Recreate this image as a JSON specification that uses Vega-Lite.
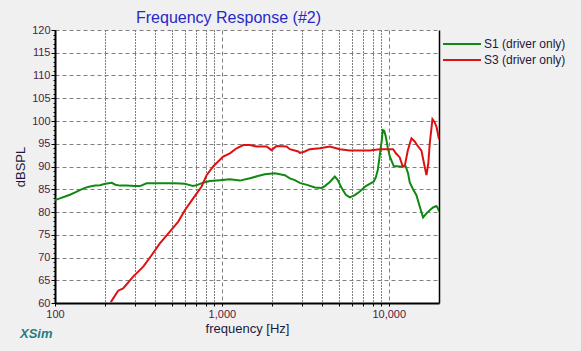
{
  "$schema": "https://vega.github.io/schema/vega-lite/v6.json",
  "width": 384,
  "height": 273,
  "autosize": {"type": "none"},
  "padding": {"left": 55, "top": 30, "right": 142, "bottom": 48},
  "background": "#f0f0f0",
  "config": {"view": {"fill": "white", "stroke": null}, "font": "Liberation Sans"},
  "title": {"text": "XSim", "orient": "bottom", "anchor": "start", "frame": "group", "dx": -35, "offset": -7, "color": "#1f7f7f", "fontSize": 13, "fontStyle": "italic", "fontWeight": "bold"},
  "datasets": {
    "resp": [
      {"s": "S1 (driver only)", "f": 100, "db": 82.6},
      {"s": "S1 (driver only)", "f": 107, "db": 83.0},
      {"s": "S1 (driver only)", "f": 115, "db": 83.4},
      {"s": "S1 (driver only)", "f": 123, "db": 83.8},
      {"s": "S1 (driver only)", "f": 132, "db": 84.3},
      {"s": "S1 (driver only)", "f": 141, "db": 84.8},
      {"s": "S1 (driver only)", "f": 151, "db": 85.3},
      {"s": "S1 (driver only)", "f": 162, "db": 85.6},
      {"s": "S1 (driver only)", "f": 174, "db": 85.8},
      {"s": "S1 (driver only)", "f": 186, "db": 85.9},
      {"s": "S1 (driver only)", "f": 200, "db": 86.2},
      {"s": "S1 (driver only)", "f": 219, "db": 86.4},
      {"s": "S1 (driver only)", "f": 230, "db": 86.0},
      {"s": "S1 (driver only)", "f": 245, "db": 85.8},
      {"s": "S1 (driver only)", "f": 270, "db": 85.8},
      {"s": "S1 (driver only)", "f": 301, "db": 85.7},
      {"s": "S1 (driver only)", "f": 323, "db": 85.7},
      {"s": "S1 (driver only)", "f": 354, "db": 86.3},
      {"s": "S1 (driver only)", "f": 425, "db": 86.3},
      {"s": "S1 (driver only)", "f": 523, "db": 86.3},
      {"s": "S1 (driver only)", "f": 600, "db": 86.2},
      {"s": "S1 (driver only)", "f": 643, "db": 85.9},
      {"s": "S1 (driver only)", "f": 670, "db": 85.7},
      {"s": "S1 (driver only)", "f": 708, "db": 85.9},
      {"s": "S1 (driver only)", "f": 780, "db": 86.5},
      {"s": "S1 (driver only)", "f": 847, "db": 86.8},
      {"s": "S1 (driver only)", "f": 973, "db": 87.0},
      {"s": "S1 (driver only)", "f": 1117, "db": 87.2},
      {"s": "S1 (driver only)", "f": 1282, "db": 86.9},
      {"s": "S1 (driver only)", "f": 1472, "db": 87.4},
      {"s": "S1 (driver only)", "f": 1643, "db": 87.9},
      {"s": "S1 (driver only)", "f": 1809, "db": 88.3},
      {"s": "S1 (driver only)", "f": 2077, "db": 88.5},
      {"s": "S1 (driver only)", "f": 2384, "db": 88.1},
      {"s": "S1 (driver only)", "f": 2554, "db": 87.4},
      {"s": "S1 (driver only)", "f": 2735, "db": 87.0},
      {"s": "S1 (driver only)", "f": 2932, "db": 86.4},
      {"s": "S1 (driver only)", "f": 3273, "db": 85.9},
      {"s": "S1 (driver only)", "f": 3606, "db": 85.4},
      {"s": "S1 (driver only)", "f": 3971, "db": 85.3},
      {"s": "S1 (driver only)", "f": 4139, "db": 85.7},
      {"s": "S1 (driver only)", "f": 4435, "db": 86.6},
      {"s": "S1 (driver only)", "f": 4751, "db": 87.8},
      {"s": "S1 (driver only)", "f": 4950, "db": 87.0},
      {"s": "S1 (driver only)", "f": 5232, "db": 85.2},
      {"s": "S1 (driver only)", "f": 5530, "db": 83.8},
      {"s": "S1 (driver only)", "f": 5841, "db": 83.2},
      {"s": "S1 (driver only)", "f": 6260, "db": 83.7},
      {"s": "S1 (driver only)", "f": 6704, "db": 84.5},
      {"s": "S1 (driver only)", "f": 7284, "db": 85.7},
      {"s": "S1 (driver only)", "f": 7696, "db": 86.2},
      {"s": "S1 (driver only)", "f": 8133, "db": 86.7},
      {"s": "S1 (driver only)", "f": 8360, "db": 87.6},
      {"s": "S1 (driver only)", "f": 8594, "db": 89.2},
      {"s": "S1 (driver only)", "f": 8835, "db": 92.5},
      {"s": "S1 (driver only)", "f": 9082, "db": 95.8},
      {"s": "S1 (driver only)", "f": 9208, "db": 98.0},
      {"s": "S1 (driver only)", "f": 9398, "db": 97.8},
      {"s": "S1 (driver only)", "f": 9594, "db": 96.6},
      {"s": "S1 (driver only)", "f": 9860, "db": 94.2},
      {"s": "S1 (driver only)", "f": 10140, "db": 92.2},
      {"s": "S1 (driver only)", "f": 10710, "db": 90.1},
      {"s": "S1 (driver only)", "f": 11640, "db": 90.0},
      {"s": "S1 (driver only)", "f": 12640, "db": 90.0},
      {"s": "S1 (driver only)", "f": 13050, "db": 88.5},
      {"s": "S1 (driver only)", "f": 13360, "db": 86.5},
      {"s": "S1 (driver only)", "f": 13980, "db": 85.0},
      {"s": "S1 (driver only)", "f": 14650, "db": 83.7},
      {"s": "S1 (driver only)", "f": 15330, "db": 81.2},
      {"s": "S1 (driver only)", "f": 16050, "db": 78.8},
      {"s": "S1 (driver only)", "f": 16820, "db": 79.7},
      {"s": "S1 (driver only)", "f": 17600, "db": 80.4},
      {"s": "S1 (driver only)", "f": 18420, "db": 81.0},
      {"s": "S1 (driver only)", "f": 19310, "db": 81.3},
      {"s": "S1 (driver only)", "f": 19740, "db": 80.8},
      {"s": "S1 (driver only)", "f": 20000, "db": 80.1},
      {"s": "S3 (driver only)", "f": 216, "db": 60.2},
      {"s": "S3 (driver only)", "f": 239, "db": 62.7},
      {"s": "S3 (driver only)", "f": 256, "db": 63.2},
      {"s": "S3 (driver only)", "f": 294, "db": 65.8},
      {"s": "S3 (driver only)", "f": 338, "db": 68.0},
      {"s": "S3 (driver only)", "f": 379, "db": 70.5},
      {"s": "S3 (driver only)", "f": 425, "db": 73.1},
      {"s": "S3 (driver only)", "f": 488, "db": 75.7},
      {"s": "S3 (driver only)", "f": 548, "db": 77.9},
      {"s": "S3 (driver only)", "f": 600, "db": 80.4},
      {"s": "S3 (driver only)", "f": 673, "db": 83.0},
      {"s": "S3 (driver only)", "f": 756, "db": 85.6},
      {"s": "S3 (driver only)", "f": 810, "db": 88.1},
      {"s": "S3 (driver only)", "f": 887, "db": 90.0},
      {"s": "S3 (driver only)", "f": 950, "db": 91.1},
      {"s": "S3 (driver only)", "f": 1018, "db": 92.2},
      {"s": "S3 (driver only)", "f": 1117, "db": 92.9},
      {"s": "S3 (driver only)", "f": 1225, "db": 94.0},
      {"s": "S3 (driver only)", "f": 1342, "db": 94.7},
      {"s": "S3 (driver only)", "f": 1472, "db": 94.7},
      {"s": "S3 (driver only)", "f": 1614, "db": 94.4},
      {"s": "S3 (driver only)", "f": 1852, "db": 94.4},
      {"s": "S3 (driver only)", "f": 1984, "db": 93.6},
      {"s": "S3 (driver only)", "f": 2127, "db": 94.5},
      {"s": "S3 (driver only)", "f": 2440, "db": 94.4},
      {"s": "S3 (driver only)", "f": 2554, "db": 93.8},
      {"s": "S3 (driver only)", "f": 2864, "db": 93.3},
      {"s": "S3 (driver only)", "f": 2932, "db": 93.0},
      {"s": "S3 (driver only)", "f": 3141, "db": 93.3},
      {"s": "S3 (driver only)", "f": 3365, "db": 93.8},
      {"s": "S3 (driver only)", "f": 3863, "db": 94.0},
      {"s": "S3 (driver only)", "f": 4435, "db": 94.4},
      {"s": "S3 (driver only)", "f": 5090, "db": 93.8},
      {"s": "S3 (driver only)", "f": 5841, "db": 93.5},
      {"s": "S3 (driver only)", "f": 7696, "db": 93.5},
      {"s": "S3 (driver only)", "f": 8835, "db": 93.8},
      {"s": "S3 (driver only)", "f": 10140, "db": 93.8},
      {"s": "S3 (driver only)", "f": 10610, "db": 93.8},
      {"s": "S3 (driver only)", "f": 11100, "db": 92.8},
      {"s": "S3 (driver only)", "f": 11640, "db": 92.0},
      {"s": "S3 (driver only)", "f": 12130, "db": 90.0},
      {"s": "S3 (driver only)", "f": 12500, "db": 90.3},
      {"s": "S3 (driver only)", "f": 13000, "db": 93.5},
      {"s": "S3 (driver only)", "f": 13680, "db": 96.2},
      {"s": "S3 (driver only)", "f": 14300, "db": 95.5},
      {"s": "S3 (driver only)", "f": 14980, "db": 94.4},
      {"s": "S3 (driver only)", "f": 15700, "db": 93.5},
      {"s": "S3 (driver only)", "f": 16200, "db": 91.0},
      {"s": "S3 (driver only)", "f": 16820, "db": 88.1},
      {"s": "S3 (driver only)", "f": 17240, "db": 90.5},
      {"s": "S3 (driver only)", "f": 17600, "db": 95.0},
      {"s": "S3 (driver only)", "f": 18270, "db": 100.4},
      {"s": "S3 (driver only)", "f": 18780, "db": 99.8},
      {"s": "S3 (driver only)", "f": 19310, "db": 98.8},
      {"s": "S3 (driver only)", "f": 20000, "db": 96.0}
    ]
  },
  "data": {"name": "resp"},
  "layer": [
    {
      "mark": {"type": "line", "strokeWidth": 2, "clip": true},
      "encoding": {
        "x": {
          "field": "f", "type": "quantitative",
          "scale": {"type": "log", "domain": [100, 20000], "nice": false},
          "axis": {
            "orient": "bottom",
            "values": [100, 200, 300, 400, 500, 600, 700, 800, 900, 1000, 2000, 3000, 4000, 5000, 6000, 7000, 8000, 9000, 10000],
            "labelExpr": "datum.value == 100 ? '100' : datum.value == 1000 ? '1,000' : datum.value == 10000 ? '10,000' : ''",
            "labelOverlap": false, "labelFlush": false,
            "labelColor": "#502040", "labelFontSize": 11, "labelPadding": 2,
            "tickSize": 3, "tickColor": "#000000",
            "domainColor": "#000000", "domainWidth": 2,
            "grid": true,
            "gridColor": {"condition": {"test": "datum.value == 1000 || datum.value == 10000", "value": "#808080"}, "value": "#000000"},
            "gridDash": {"condition": {"test": "datum.value == 1000 || datum.value == 10000", "value": [4, 3]}, "value": [1, 2]},
            "title": "frequency [Hz]", "titleFontSize": 13, "titleFontWeight": "normal", "titleColor": "#1a1a40", "titlePadding": 3
          }
        },
        "y": {
          "field": "db", "type": "quantitative",
          "scale": {"domain": [60, 120], "nice": false, "zero": false},
          "axis": {
            "orient": "left",
            "values": [60, 65, 70, 75, 80, 85, 90, 95, 100, 105, 110, 115, 120],
            "labelColor": "#502040", "labelFontSize": 11, "labelPadding": 1,
            "tickSize": 4, "tickColor": "#000000",
            "domainColor": "#000000", "domainWidth": 2,
            "grid": true, "gridColor": "#808080", "gridDash": [4, 3],
            "title": "dBSPL", "titleFontSize": 13, "titleFontWeight": "normal", "titleColor": "#1a1a40", "titlePadding": 4
          }
        },
        "color": {
          "field": "s", "type": "nominal",
          "scale": {"domain": ["S1 (driver only)", "S3 (driver only)"], "range": ["#118811", "#dd1111"]},
          "legend": {
            "orient": "none", "legendX": 401, "legendY": 8, "title": null,
            "symbolType": "M-4,0H4", "symbolSize": 90, "symbolStrokeWidth": 2,
            "labelFontSize": 12, "labelColor": "#1a1a40", "labelOffset": 16, "rowPadding": 4
          }
        }
      }
    },
    {
      "mark": {"type": "line", "opacity": 0},
      "encoding": {
        "x": {
          "field": "f", "type": "quantitative",
          "axis": {"orient": "top", "domain": false, "ticks": false, "labels": false, "grid": false,
                   "title": "Frequency Response (#2)", "titleFontSize": 16, "titleFontWeight": "normal", "titleColor": "#2828c8", "titlePadding": 5, "titleX": 173, "titleAlign": "center"}
        },
        "y": {
          "field": "db", "type": "quantitative",
          "axis": {"orient": "left", "domain": false, "labels": false, "grid": false, "title": null,
                   "tickSize": 2, "tickColor": "#000000",
                   "values": [60,61,62,63,64,65,66,67,68,69,70,71,72,73,74,75,76,77,78,79,80,81,82,83,84,85,86,87,88,89,90,91,92,93,94,95,96,97,98,99,100,101,102,103,104,105,106,107,108,109,110,111,112,113,114,115,116,117,118,119,120]}
        },
        "detail": {"field": "s"}
      }
    },
    {
      "mark": {"type": "line", "opacity": 0},
      "encoding": {
        "x": {"field": "f", "type": "quantitative", "axis": null},
        "y": {
          "field": "db", "type": "quantitative",
          "axis": {"orient": "right", "domain": true, "domainColor": "#000000", "domainWidth": 1.5, "labels": false, "ticks": false, "grid": false, "title": null}
        },
        "detail": {"field": "s"}
      }
    }
  ],
  "resolve": {"axis": {"x": "independent", "y": "independent"}}
}
